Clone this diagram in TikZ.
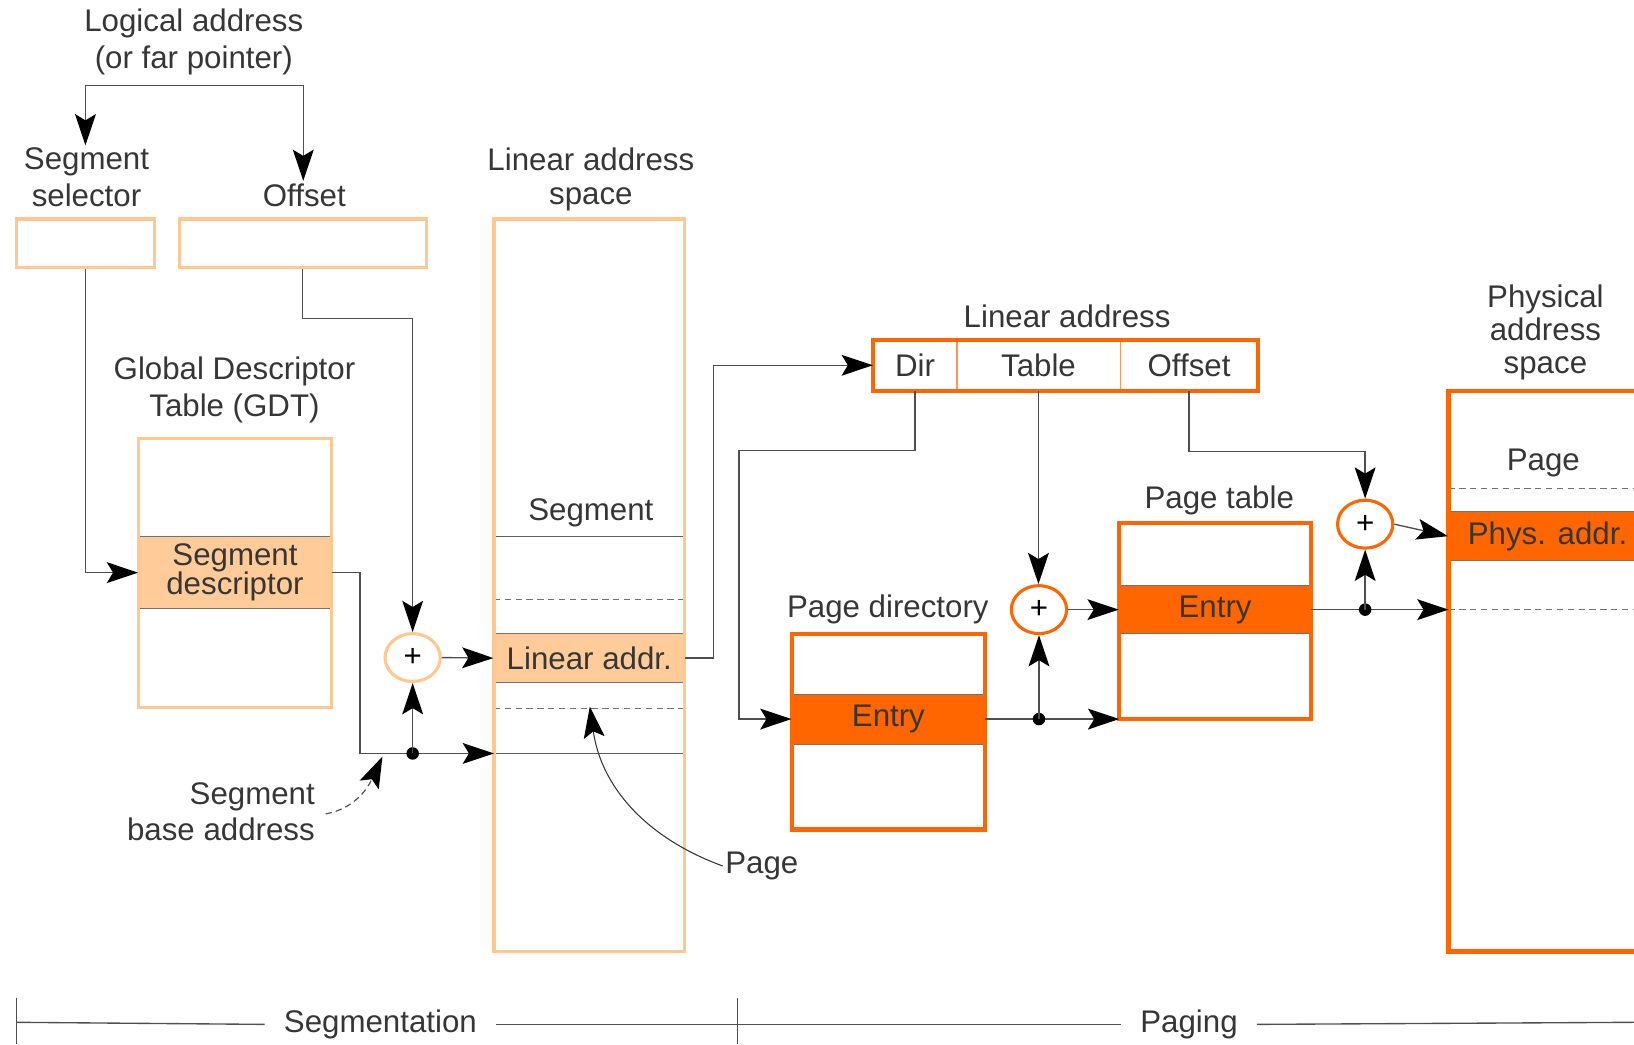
\documentclass[tikz,border=0pt]{standalone}
\usepackage{fontspec}
\setmainfont{Liberation Sans}
\usetikzlibrary{arrows.meta,shapes.geometric,fit}

\definecolor{peach}{HTML}{FFC890}
\definecolor{peachfill}{HTML}{FFCC99}
\definecolor{hot}{HTML}{FF6600}
\definecolor{ink}{HTML}{363636}
\definecolor{wirec}{HTML}{4E4E4E}

\tikzset{
  tipstyle/.tip={Stealth[length=15pt,width=10pt,inset=3pt,color=black]},
  lbl/.style={text=ink, font=\fontsize{15}{17.5}\selectfont, align=center, inner sep=1pt},
  wire/.style={draw=wirec, line width=0.65pt},
  arr/.style={wire, -tipstyle},
  thinarr/.style={draw=black!80, line width=0.5pt, -tipstyle},
  lbox/.style={draw=peach, line width=1.6pt, inner sep=0pt},
  dbox/.style={draw=hot, line width=2pt, inner sep=0pt},
  pband/.style={fill=peachfill, draw=wirec!80, line width=0.5pt, inner sep=0pt,
                text=ink, font=\fontsize{15}{14}\selectfont, align=center},
  hband/.style={fill=hot, draw=wirec!80, line width=0.5pt, inner sep=0pt,
                text=ink, font=\fontsize{15}{14}\selectfont, align=center},
  cell/.style={inner sep=0pt, text=ink, font=\fontsize{15}{17}\selectfont},
  sepline/.style={draw=wirec!90, line width=0.55pt},
  dashline/.style={draw=wirec!80, line width=0.55pt, dash pattern=on 3pt off 2.2pt},
  adder/.style={ellipse, fill=white, line width=1.5pt, minimum width=26.5pt,
                minimum height=23pt, inner sep=0pt, text=black,
                font=\fontsize{15}{15}\selectfont},
  addL/.style={adder, draw=peach},
  addD/.style={adder, draw=hot},
  tap/.style={fill=black},
}

\begin{document}
\begin{tikzpicture}[x=0.5pt, y=-0.5pt]
\useasboundingbox (0,0) rectangle (1568,1002);
\clip (0,0) rectangle (1568,1002);

% ---------- logical address ----------
\node[lbl] (logaddr) at (186,40) {Logical address\\(or far pointer)};
\coordinate (forkL) at (82,82);
\coordinate (forkR) at (291,82);
\node[lbl] (sellab) at (83,170) {Segment\\selector};
\node[lbl] (offlab) at (292,187) {Offset};
\node[lbox, fit={(16,210)(148,257)}] (sel) {};
\node[lbox, fit={(172,210)(409,257)}] (off) {};
\draw[wire] (forkL) -- (forkR);
\draw[arr] (forkL) -- (forkL |- sellab.north);
\draw[arr] (forkR) -- (forkR |- offlab.north);

% ---------- global descriptor table ----------
\node[lbl] (gdtlab) at (225,374) {Global Descriptor\\Table (GDT)};
\node[pband, minimum width=92.5pt, minimum height=34.5pt] (desc) at (225.5,549.5) {Segment\\descriptor};
\node[lbox, fit={(133,421)(318,679)}] (gdt) {};
\draw[arr] (sel.south) |- (desc.west);

% ---------- linear address space ----------
\node[lbl, font=\fontsize{15}{16}\selectfont] (lslab) at (567,172) {Linear address\\space};
\node[pband, minimum width=91.5pt, minimum height=23.5pt] (laddr) at (565.5,631.5) {Linear addr.};
\node[lbl] (seglab) at (567,492) {Segment};
\draw[sepline] (474,515) -- (657,515);
\draw[dashline] (474,575) -- (657,575);
\draw[dashline] (474,680) -- (657,680);
\draw[sepline] (474,723) -- (657,723);
\node[lbox, fit={(474,210)(657,913)}] (lspace) {};

% ---------- segment adder ----------
\node[addL] (add1) at (396,631) {+};
\coordinate (tap1) at (396,723);
\coordinate (lsin) at (474,723);
\draw[arr] (off.south) -- ++(0,47) -| (add1.north);
\draw[arr] (desc.east) -- ++(27,0) |- (lsin);
\fill[tap] (tap1) circle (3pt);
\draw[arr] (tap1) -- (add1.south);
\draw[arr] (add1.east) -- (laddr.west);

% ---------- annotations ----------
\node[lbl, align=right] (sbalab) at (212,779) {Segment\\base address};
\coordinate (sbapt) at (367,726);
\draw[wirec, line width=0.55pt, dash pattern=on 3pt off 2pt, -tipstyle]
  ([xshift=4pt,yshift=-1pt]sbalab.east) to[out=10,in=-115] (sbapt);
\node[lbl] (pagelab) at (731,831) {Page};
\coordinate (pagept) at (566,678);
\draw[thinarr] (pagelab.west) to[out=160,in=-82] (pagept);

% ---------- linear address (paging) ----------
\node[lbl] (lalab) at (1024,304) {Linear address};
\node[cell, minimum width=40pt, minimum height=24.5pt] (dir) at (878,350.5) {Dir};
\node[cell, minimum width=78.5pt, minimum height=24.5pt] (tbl) at (996.5,350.5) {Table};
\node[cell, minimum width=66pt, minimum height=24.5pt] (ofs) at (1141,350.5) {Offset};
\draw[draw=hot!70, line width=0.6pt] (dir.north east) -- (dir.south east);
\draw[draw=hot!70, line width=0.6pt] (tbl.north east) -- (tbl.south east);
\node[dbox, fit={(838,326)(1207,375)}] (linaddr) {};
\draw[arr] (laddr.east) -- ++(27,0) |- (dir.west);

% ---------- page directory ----------
\node[lbl] (pdlab) at (852,585) {Page directory};
\node[hband, minimum width=92.5pt, minimum height=24pt] (pde) at (852.5,690) {Entry};
\node[dbox, fit={(760,608)(945,796)}] (pdir) {};
\draw[arr] (dir.south) |- (709,432) |- (pde.west);

% ---------- page table ----------
\node[lbl] (ptlab) at (1170,480) {Page table};
\node[hband, minimum width=92pt, minimum height=23pt] (pte) at (1166,585) {Entry};
\node[dbox, fit={(1074,502)(1258,690)}] (ptbl) {};

\node[addD] (add2) at (997,585) {+};
\coordinate (tap2) at (997,690);
\coordinate (ptin) at (1074,690);
\draw[arr] (pde.east) -- (ptin);
\fill[tap] (tap2) circle (3pt);
\draw[arr] (tap2) -- (add2.south);
\draw[arr] (tbl.south) -- (tbl.south |- add2.north);
\draw[arr] (add2.east) -- (pte.west);

% ---------- physical address space ----------
\node[lbl, font=\fontsize{15}{16}\selectfont] (physlab) at (1483,319) {Physical\\address\\space};
\node[lbl] (pgphys) at (1481,444) {Page};
\draw[dashline] (1390,469) -- (1568,469);
\draw[dashline] (1390,585) -- (1568,585);
\node[hband, minimum width=95pt, minimum height=23.5pt] (pha) at (1485,514.5) {Phys. addr.};
\node[dbox, fit={(1390,375)(1610,913)}] (phys) {};

\node[addD] (add3) at (1310,503) {+};
\coordinate (tap3) at (1310,585);
\coordinate (physin) at (1390,585);
\draw[arr] (ofs.south) -- ++(0,58) -| (add3.north);
\draw[arr] (pte.east) -- (physin);
\fill[tap] (tap3) circle (3pt);
\draw[arr] (tap3) -- (add3.south);
\draw[arr] (add3.east) -- (pha.west);

% ---------- stage ruler ----------
\node[lbl, inner xsep=9pt] (segstage) at (365,983) {Segmentation};
\node[lbl, inner xsep=9pt] (pagstage) at (1141,983) {Paging};
\coordinate (rulerL) at (16,981);
\coordinate (rulerR) at (1568,981);
\draw[wire] (rulerL) -- (segstage.west);
\draw[wire] (segstage.east) -- (pagstage.west);
\draw[wire] (pagstage.east) -- (rulerR);
\draw[wire] (16,958) -- (16,1002);
\draw[wire] (708,958) -- (708,1002);
\end{tikzpicture}
\end{document}
